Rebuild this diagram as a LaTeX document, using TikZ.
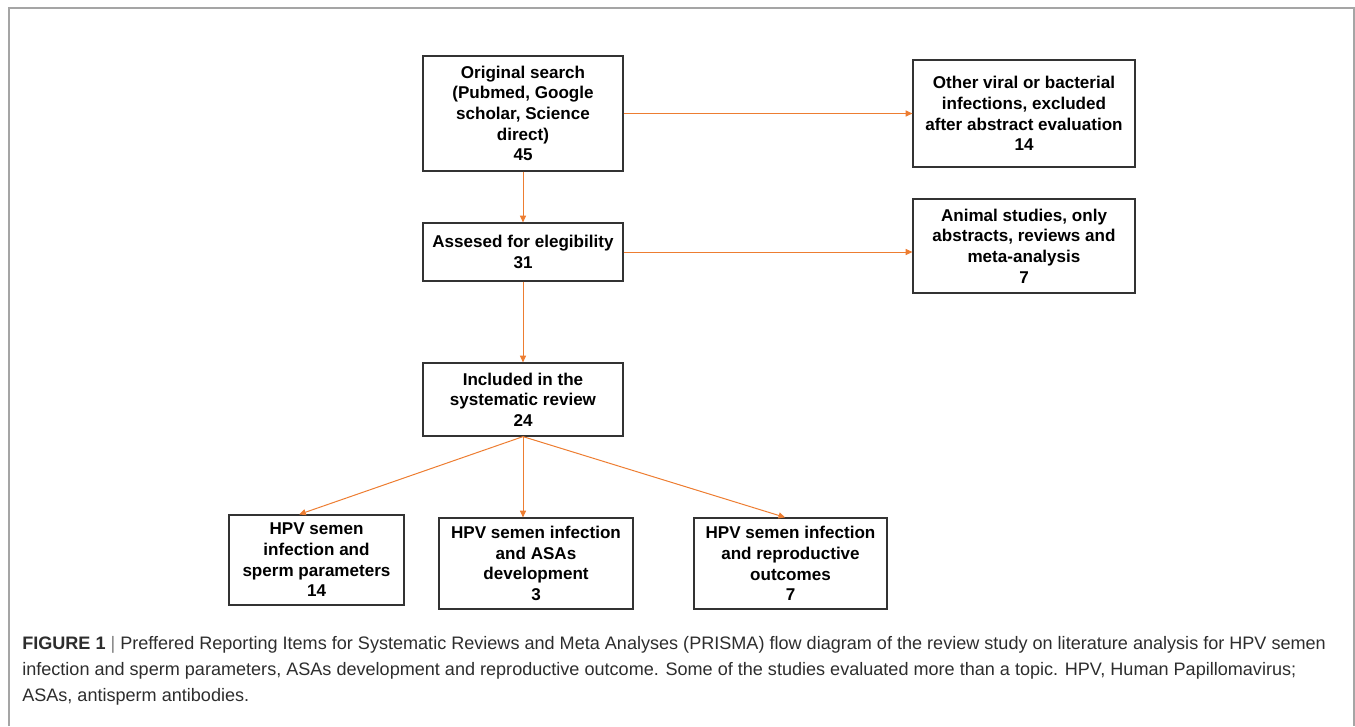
\documentclass[tikz,border=0pt]{standalone}
\usepackage{fontspec}
\setmainfont{Liberation Sans}
\usepackage{xcolor}
\usepackage{tikz}
\usetikzlibrary{arrows.meta}
\definecolor{niceorange}{RGB}{237, 125, 49}
\definecolor{framegray}{RGB}{165, 165, 165}
\definecolor{captiongray}{RGB}{45, 45, 45}

\begin{document}
\begin{tikzpicture}[x = 0.75pt, y = -0.75pt,
	box/.style = {draw = black!80, line width = 0.9pt, align = center, inner sep = 0pt, font = \fontsize{12.8}{15.5}\selectfont\bfseries},
	flow/.style = {draw = niceorange, line width = 0.75pt, -{Triangle[length = 5pt, width = 4.5pt]}}]
	\useasboundingbox (0,0) rectangle (1355,726);
	\draw[framegray, line width = 1.1pt] (9,726) -- (9,8) -- (1354,8) -- (1354,726);
	\node (orig) at (523,113.5) [box, minimum width = 150pt, minimum height = 86.25pt] {Original search\\(Pubmed, Google\\scholar, Science\\direct)\\45};
	\node (assess) at (523,252) [box, minimum width = 150pt, minimum height = 43.5pt] {Assesed for elegibility\\31};
	\node (incl) at (523,399.5) [box, minimum width = 150pt, minimum height = 54.75pt] {Included in the\\systematic review\\24};
	\node (other) at (1024,113.5) [box, minimum width = 166.5pt, minimum height = 80.25pt] {Other viral or bacterial\\infections, excluded\\after abstract evaluation\\14};
	\node (animal) at (1024,246) [box, minimum width = 166.5pt, minimum height = 70.5pt] {Animal studies, only\\abstracts, reviews and\\meta-analysis\\7};
	\node (sperm) at (316.5,560) [box, minimum width = 131.25pt, minimum height = 67.5pt] {HPV semen\\infection and\\sperm parameters\\14};
	\node (asa) at (536,563.5) [box, minimum width = 145.5pt, minimum height = 68.25pt] {HPV semen infection\\and ASAs\\development\\3};
	\node (repro) at (790.5,563.5) [box, minimum width = 144.75pt, minimum height = 68.25pt] {HPV semen infection\\and reproductive\\outcomes\\7};
	\draw (orig) edge[flow] (other);
	\draw (orig) edge[flow] (assess);
	\draw (assess.east) edge[flow] (assess.east -| animal.west);
	\draw (assess) edge[flow] (incl);
	\draw (incl.south) edge[flow] ([xshift = -13pt]sperm.north);
	\draw (incl.south) edge[flow] (incl.south |- asa.north);
	\draw (incl.south) edge[flow] ([xshift = -4pt]repro.north);
	\node (caption) at (22,636.5) [anchor = north west, align = left, inner sep = 0pt, text = captiongray, font = \fontsize{13.55}{19.5}\selectfont] {\textbf{FIGURE 1} {\color{gray}|} Preffered Reporting Items for Systematic Reviews and Meta Analyses (PRISMA) flow diagram of the review study on literature analysis for HPV semen\\infection and sperm parameters, ASAs development and reproductive outcome. Some of the studies evaluated more than a topic. HPV, Human Papillomavirus;\\ASAs, antisperm antibodies.};
\end{tikzpicture}
\end{document}
